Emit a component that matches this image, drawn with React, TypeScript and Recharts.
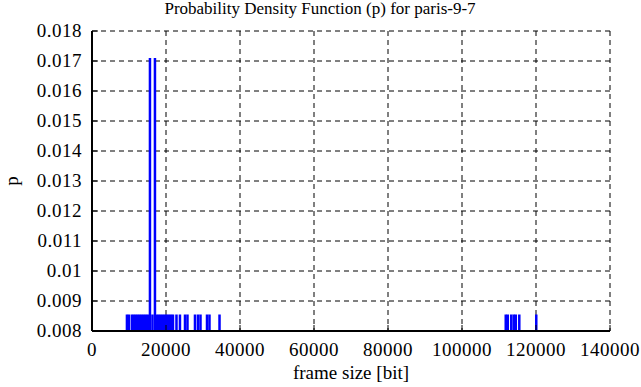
import { Bar, CartesianGrid, ComposedChart, XAxis, YAxis } from 'recharts';

// frame sizes [bit] that have a non zero probability
const frameSizes = [
  9470, 10010, 10820, 11360, 11900, 12440, 12980, 13520, 14070, 14610,
  15150, 15690, 16370, 17040, 17580, 18120, 18660, 19210, 19750, 20290,
  20830, 21370, 21910, 22860, 23800, 25160, 25830, 27860, 28670, 29350,
  31110, 31780, 34490,
  111850, 112400, 113340, 114020, 114560, 115510, 120100,
];

const probabilities = [
  0.00855, 0.00855, 0.00855, 0.00855, 0.00855, 0.00855, 0.00855, 0.00855, 0.00855, 0.00855,
  0.00855, 0.0171, 0.00855, 0.0171, 0.00855, 0.00855, 0.00855, 0.00855, 0.00855, 0.00855,
  0.00855, 0.00855, 0.00855, 0.00855, 0.00855, 0.00855, 0.00855, 0.00855, 0.00855, 0.00855,
  0.00855, 0.00855, 0.00855,
  0.00855, 0.00855, 0.00855, 0.00855, 0.00855, 0.00855, 0.00855,
];

const xTicks = [0, 20000, 40000, 60000, 80000, 100000, 120000, 140000];
const yTicks = [0.008, 0.009, 0.01, 0.011, 0.012, 0.013, 0.014, 0.015, 0.016, 0.017, 0.018];

const FONT = '"Liberation Serif", "Times New Roman", serif';

const axisLineStyle = { stroke: '#000', strokeWidth: 2 };
const tickLineStyle = { stroke: '#000', strokeWidth: 1 };

function XTick(props: any) {
  const { x, y, payload } = props;
  return (
    <text
      x={x}
      y={y}
      dy='0.71em'
      textAnchor='middle'
      fontFamily={FONT}
      fontSize={19}
      letterSpacing={0.5}
      fill='#000'
    >
      {payload.value}
    </text>
  );
}

function YTick(props: any) {
  const { x, y, payload } = props;
  return (
    <text
      x={x}
      y={y}
      dy='0.34em'
      textAnchor='end'
      fontFamily={FONT}
      fontSize={19}
      letterSpacing={0.5}
      fill='#000'
    >
      {String(payload.value)}
    </text>
  );
}

// impulse: a 2.5px line centred on the bar slot recharts computes
function Impulse(props: any) {
  const { x, y, width, height, fill } = props;
  if (height == null || height <= 0) return null;
  return <rect x={x + width / 2 - 1.25} y={y} width={2.5} height={height} fill={fill} />;
}

export default function App() {
  const data = frameSizes.map((size, i) => ({ size, p: probabilities[i] }));

  return (
    <div
      style={{
        position: 'absolute',
        left: 0,
        top: 0,
        width: 641,
        height: 387,
        background: '#fff',
        fontFamily: FONT,
      }}
    >
      <ComposedChart
        width={641}
        height={387}
        data={data}
        margin={{ top: 31, right: 31, bottom: 0, left: 0 }}
      >
        <CartesianGrid
          xAxisId='b'
          yAxisId='l'
          stroke='#000'
          strokeDasharray='5 4'
        />
        <Bar
          xAxisId='b'
          yAxisId='l'
          dataKey='p'
          fill='#0000ff'
          barSize={2}
          shape={<Impulse />}
          isAnimationActive={false}
        />
        <XAxis
          xAxisId='b'
          type='number'
          dataKey='size'
          domain={[0, 140000]}
          ticks={xTicks}
          interval={0}
          allowDataOverflow
          height={56}
          axisLine={axisLineStyle}
          tickLine={tickLineStyle}
          tickSize={-6}
          tickMargin={17.5}
          tick={<XTick />}
        />
        <XAxis
          xAxisId='t'
          orientation='top'
          type='number'
          domain={[0, 140000]}
          ticks={xTicks}
          interval={0}
          allowDataOverflow
          height={0}
          axisLine={axisLineStyle}
          tickLine={tickLineStyle}
          tickSize={-6}
          tick={false}
        />
        <YAxis
          yAxisId='l'
          type='number'
          domain={[0.008, 0.018]}
          ticks={yTicks}
          interval={0}
          allowDataOverflow
          width={92}
          axisLine={axisLineStyle}
          tickLine={tickLineStyle}
          tickSize={-6}
          tickMargin={16}
          tick={<YTick />}
        />
        <YAxis
          yAxisId='r'
          orientation='right'
          type='number'
          domain={[0.008, 0.018]}
          ticks={yTicks}
          interval={0}
          allowDataOverflow
          width={0}
          axisLine={axisLineStyle}
          tickLine={tickLineStyle}
          tickSize={-6}
          tick={false}
        />
      </ComposedChart>
      <svg
        width={641}
        height={387}
        style={{ position: 'absolute', left: 0, top: 0, pointerEvents: 'none' }}
      >
        <text x={320} y={14} textAnchor='middle' fontFamily={FONT} fontSize={17} fill='#000'>
          Probability Density Function (p) for paris-9-7
        </text>
        <text x={351} y={379} textAnchor='middle' fontFamily={FONT} fontSize={19} fill='#000'>
          frame size [bit]
        </text>
        <text
          x={0}
          y={0}
          transform='translate(18 181) rotate(-90)'
          textAnchor='middle'
          fontFamily={FONT}
          fontSize={19}
          fill='#000'
        >
          p
        </text>
      </svg>
    </div>
  );
}
